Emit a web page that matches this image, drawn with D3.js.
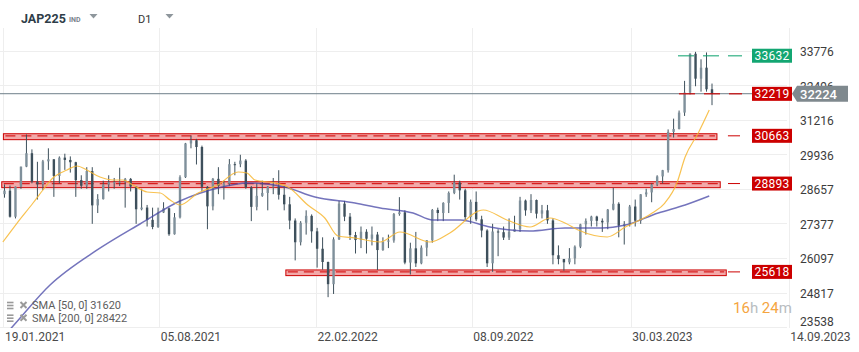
<!DOCTYPE html>
<html>
<head>
<meta charset="utf-8">
<script src="https://cdn.jsdelivr.net/npm/d3@7"></script>
<style>
  body { margin: 0; background: #fff; font-family: Roboto, 'Noto Sans', sans-serif; }
  svg { display: block; }
</style>
</head>
<body>
<svg id="chart" width="859" height="352"></svg>
<script>
// weekly bars, week 0 = 18.01.2021
const highs = [
  28860, 28820, 28780, 29520, 30714, 30160, 29700, 29770, 30200, 29800,
  29900, 30000, 29900, 29700, 29200, 29500, 29500, 28500, 29000, 29200,
  29100, 29480, 29100, 29100, 28800, 28700, 28100, 28000, 28000, 28200,
  28000, 27800, 29200, 30400, 30670, 30550, 30300, 28800, 29100, 29500,
  29000, 29800, 29700, 29960, 29800, 28800, 28900, 29000, 28800, 29100,
  29388, 28800, 28400, 27600, 27500, 27900, 27750, 27250, 26900, 26000,
  26900, 28250, 28250, 27800, 27100, 27300, 27200, 27300, 27100, 26900,
  27000, 27800, 28389, 27900, 26700, 27100, 26600, 26800, 27950, 28000,
  28200, 28600, 29222, 29000, 28700, 28300, 28600, 27700, 27200, 27400,
  27200, 27300, 27600, 27700, 28400, 28300, 28500, 28300, 28100, 28100,
  27600, 26600, 26100, 26500, 26600, 27400, 27600, 27700, 27700, 27600,
  27950, 28734, 28200, 27500, 28100, 28300, 28500, 28700, 28900, 29200,
  29400, 30900, 31300, 31600, 32700, 33720, 33776, 33500, 33753, 32600
]
const lows = [
  28370, 27630, 27600, 28700, 29500, 28900, 28300, 28650, 29400, 28400,
  28900, 29400, 29300, 28400, 28700, 28700, 27400, 27800, 28300, 28600,
  28700, 28800, 28000, 28600, 27400, 27900, 27300, 27200, 27250, 27800,
  26954, 27000, 27600, 29100, 30200, 29600, 28600, 27200, 27900, 28500,
  28300, 28800, 29200, 29500, 28700, 27500, 27900, 28400, 27900, 28500,
  28300, 27900, 27200, 26044, 26600, 27000, 26700, 25776, 25700, 24681,
  24800, 26800, 27500, 26800, 26300, 26500, 26300, 26600, 25688, 26400,
  26500, 26700, 27700, 25900, 25520, 25800, 25900, 26200, 26700, 27500,
  27500, 27800, 28500, 28300, 27500, 27400, 27500, 26900, 25800, 25621,
  26200, 26800, 26800, 27100, 27100, 27700, 27800, 27600, 27600, 27400,
  25900, 25900, 25661, 25900, 25900, 26500, 27000, 27300, 27300, 27100,
  27200, 27900, 26900, 26632, 27300, 27300, 27400, 28400, 28200, 28800,
  28900, 29300, 30600, 30900, 31400, 32200, 32500, 32300, 32300, 31800
]
const closes = [
  28631, 27663, 28779, 29520, 30018, 28966, 28864, 29717, 29792, 29176,
  29854, 29768, 29683, 29020, 28812, 29358, 28084, 28317, 28860, 28941,
  28948, 28964, 29066, 28783, 27940, 28003, 27548, 27283, 27820, 27977,
  27013, 27641, 29128, 30381, 30500, 30248, 28771, 28048, 29068, 28804,
  28892, 29611, 29609, 29745, 28751, 28029, 28437, 28545, 28782, 28791,
  28478, 28124, 27522, 26717, 27440, 27696, 27122, 26476, 25985, 25163,
  26827, 28150, 27666, 26986, 26799, 27106, 26848, 27003, 26428, 26739,
  26782, 27762, 27825, 25963, 26491, 25935, 26517, 26788, 27915, 27801,
  28176, 28546, 28930, 28641, 27650, 28214, 27567, 27153, 25937, 27116,
  27090, 26891, 27105, 27199, 28263, 27899, 28283, 27777, 27901, 27527,
  26235, 26094, 25973, 26119, 26553, 27382, 27509, 27670, 27513, 27453,
  27927, 28143, 27333, 27385, 28041, 27518, 28493, 28564, 28856, 29157,
  29388, 30808, 30916, 31524, 32265, 33706, 32781, 33189, 32388, 32224
]
const firstOpen = 28500

// moving averages (week index, value)
const sma50Weeks = [-0.3, 2.3, 5.2, 7.0, 8.8, 11.4, 13.2, 15.0, 17.4, 19.8, 21.6, 23.4, 26.0, 28.4, 30.2, 32.0, 35.3, 38.9, 42.6, 44.2, 45.7, 49.3, 51.7, 55.3, 58.4, 60.8, 63.9, 68.5, 72.1, 77.6, 81.2, 87.3, 91.6, 95.8, 99.5, 102.2, 104.6, 109.9, 113.2, 118.1, 120.4, 122.6, 124.1, 126.5, 128.5]
const sma50 = [26726, 27430, 28172, 28654, 29099, 29395, 29543, 29395, 29136, 29024, 29024, 28839, 28580, 28543, 28283, 28098, 28543, 28839, 29321, 29284, 29024, 28913, 28765, 28098, 27616, 26949, 26874, 26726, 27097, 26726, 27060, 27912, 27542, 27282, 27616, 27431, 27171, 26912, 27282, 27801, 28172, 28913, 29877, 30767, 31620]
const sma200Weeks = [-0.3, 1.4, 8.3, 16.9, 24.7, 32.0, 38.9, 44.4, 51.1, 56.6, 63.9, 68.5, 74.5, 78.1, 83.1, 88.5, 95.8, 102.2, 108.9, 113.2, 119.2, 124.1, 128.5]
const sma200 = [23200, 23575, 25132, 26430, 27393, 28246, 28728, 28913, 28765, 28394, 28172, 27987, 27801, 27542, 27542, 27282, 27134, 27245, 27245, 27356, 27801, 28098, 28431]

const yTicks = [33776, 32496, 31216, 29936, 28657, 27377, 26097, 24817, 23538]
const xTickWeeks = [-0.2, 28.2, 56.8, 85.2, 114.2, 143]
const xTickLabels = ['19.01.2021', '05.08.2021', '22.02.2022', '08.09.2022', '30.03.2023', '14.09.2023']

// support / resistance zones
const zoneLevels = [30663, 28893, 25618]
const zoneLow = [30520, 28740, 25480]
const zoneHigh = [30740, 28960, 25690]
const zoneFrom = [-0.2, -0.5, 51.3]
const zoneTo = [129.9, 130.5, 131.6]

const lastPrice = 32224
const bidLevel = 32219
const topLevel = 33632
const levelFrom = 122.8
const legendLines = ['SMA [50, 0] 31620', 'SMA [200, 0] 28422']

const svg = d3.select('#chart')
const plotRight = 787
const plotTop = 28
const plotBottom = 328

const x = d3.scaleLinear().domain([0, 129]).range([4.5, 712])
const y = d3.scaleLinear().domain([23538, 34660]).range([plotBottom, plotTop])

svg.append('defs').append('clipPath').attr('id', 'plot-clip')
  .append('rect').attr('x', 0).attr('y', plotTop).attr('width', plotRight).attr('height', plotBottom - plotTop)

// grid
svg.append('g')
  .selectAll('line')
  .data(yTicks)
  .join('line')
  .attr('x1', 0)
  .attr('x2', plotRight)
  .attr('y1', d => Math.round(y(d)) - 0.5)
  .attr('y2', d => Math.round(y(d)) - 0.5)
  .attr('stroke', '#eeeeee')

svg.append('g')
  .selectAll('line')
  .data(xTickWeeks)
  .join('line')
  .attr('x1', d => Math.round(x(d)) + 0.5)
  .attr('x2', d => Math.round(x(d)) + 0.5)
  .attr('y1', plotTop)
  .attr('y2', plotBottom)
  .attr('stroke', '#eeeeee')

// header
const header = svg.append('g')
header.append('text').attr('x', 21).attr('y', 23).text('JAP225')
  .attr('font-size', 12.5).attr('font-weight', 700).attr('fill', '#2e3d48')
header.append('text').attr('x', 69).attr('y', 22).text('IND')
  .attr('font-size', 7).attr('font-weight', 700).attr('fill', '#7a848b')
header.append('text').attr('x', 138).attr('y', 23).text('D1')
  .attr('font-size', 11).attr('fill', '#333')
header.selectAll('path.caret')
  .data([93.5, 169.5])
  .join('path')
  .attr('class', 'caret')
  .attr('d', d => `M${d - 4},14 L${d + 4},14 L${d},18.5 Z`)
  .attr('fill', '#8e969c')

// zones
const zoneG = svg.append('g')
zoneLevels.forEach((lvl, i) => {
  zoneG.append('rect')
    .attr('x', x(zoneFrom[i]))
    .attr('y', y(zoneHigh[i]))
    .attr('width', x(zoneTo[i]) - x(zoneFrom[i]))
    .attr('height', y(zoneLow[i]) - y(zoneHigh[i]))
    .attr('fill', '#f2a9a9')
    .attr('stroke', '#cc0000')
    .attr('stroke-width', 1)
  zoneG.append('line')
    .attr('x1', x(zoneFrom[i]) + 2)
    .attr('x2', x(zoneTo[i]) - 2)
    .attr('y1', y(lvl))
    .attr('y2', y(lvl))
    .attr('stroke', '#d81e1e')
    .attr('stroke-width', 1.3)
    .attr('stroke-dasharray', '10,6')
  zoneG.append('line')
    .attr('x1', Math.min(x(zoneTo[i]) + 11, 728))
    .attr('x2', 740)
    .attr('y1', y(lvl))
    .attr('y2', y(lvl))
    .attr('stroke', '#cc0000')
})

// last price line
svg.append('line')
  .attr('x1', 0).attr('x2', plotRight)
  .attr('y1', y(lastPrice)).attr('y2', y(lastPrice))
  .attr('stroke', '#6f7f89').attr('stroke-width', 1)

// candles
const candles = svg.append('g').attr('clip-path', 'url(#plot-clip)')
const bars = closes.map((c, i) => ({
  i, high: highs[i], low: lows[i], close: c, open: i === 0 ? firstOpen : closes[i - 1]
}))
candles.selectAll('line')
  .data(bars)
  .join('line')
  .attr('x1', d => x(d.i))
  .attr('x2', d => x(d.i))
  .attr('y1', d => y(d.high))
  .attr('y2', d => y(d.low))
  .attr('stroke', '#3e505c')
  .attr('stroke-width', 1)
candles.selectAll('rect')
  .data(bars)
  .join('rect')
  .attr('x', d => x(d.i) - 1.2)
  .attr('width', 2.4)
  .attr('y', d => y(Math.max(d.open, d.close)))
  .attr('height', d => Math.max(1, Math.abs(y(d.open) - y(d.close))))
  .attr('fill', d => d.close >= d.open ? '#7f909b' : '#3e505c')

// SMAs
const smaLine = d3.line()
  .x(d => x(d[0]))
  .y(d => y(d[1]))
  .curve(d3.curveMonotoneX)
const lines = svg.append('g').attr('clip-path', 'url(#plot-clip)')
lines.append('path')
  .attr('d', smaLine(sma200Weeks.map((w, i) => [w, sma200[i]])))
  .attr('fill', 'none')
  .attr('stroke', '#4545a6')
  .attr('stroke-opacity', 0.75)
  .attr('stroke-width', 1.5)
lines.append('path')
  .attr('d', smaLine(sma50Weeks.map((w, i) => [w, sma50[i]])))
  .attr('fill', 'none')
  .attr('stroke', '#f7b733')
  .attr('stroke-opacity', 0.85)
  .attr('stroke-width', 1.2)

// level lines (green top, red bid)
svg.append('line')
  .attr('x1', x(levelFrom)).attr('x2', 742)
  .attr('y1', y(topLevel)).attr('y2', y(topLevel))
  .attr('stroke', '#14a572').attr('stroke-opacity', 0.7)
  .attr('stroke-width', 1.5).attr('stroke-dasharray', '16,9')
svg.append('line')
  .attr('x1', x(levelFrom) + 1).attr('x2', 742)
  .attr('y1', y(bidLevel)).attr('y2', y(bidLevel))
  .attr('stroke', '#d20000').attr('stroke-opacity', 0.75)
  .attr('stroke-width', 1.5).attr('stroke-dasharray', '16,9')

// axes
const yAxis = svg.append('g')
  .attr('transform', `translate(800,0)`)
  .call(d3.axisRight(y).tickValues(yTicks).tickSize(0).tickPadding(0).tickFormat(d3.format('d')))
yAxis.select('.domain').remove()
yAxis.selectAll('text')
  .attr('font-family', 'Roboto, sans-serif')
  .attr('font-size', 12)
  .attr('fill', '#3c3c3c')
  .attr('y', d => (y(d) > plotBottom - 8 ? -6 : 0))

const xAxis = svg.append('g')
  .attr('transform', `translate(0,332)`)
  .call(d3.axisBottom(x).tickValues(xTickWeeks).tickSize(0).tickPadding(0).tickFormat((d, i) => xTickLabels[i]))
xAxis.select('.domain').remove()
xAxis.selectAll('text')
  .attr('font-family', 'Roboto, sans-serif')
  .attr('font-size', 12)
  .attr('fill', '#4a4a4a')
  .attr('text-anchor', 'start')
  .attr('dx', 1)

// price tags
const tag = (v, label, fill) => {
  const cy = y(v)
  svg.append('rect')
    .attr('x', 752).attr('y', cy - 7).attr('width', 40).attr('height', 14)
    .attr('fill', fill)
  svg.append('text')
    .attr('x', 772).attr('y', cy + 0.5)
    .attr('text-anchor', 'middle').attr('dominant-baseline', 'central')
    .attr('font-size', 12).attr('letter-spacing', 0.3).attr('fill', '#fff')
    .text(label)
}
tag(topLevel, '33632', '#13a672')
tag(bidLevel, '32219', '#cc0000')
zoneLevels.forEach(l => tag(l, String(l), '#cc0000'))

const ly = y(lastPrice)
svg.append('path')
  .attr('d', `M797,${ly - 8} L848,${ly - 8} L848,${ly + 8} L797,${ly + 8} L792,${ly} Z`)
  .attr('fill', '#7f898e')
svg.append('text')
  .attr('x', 800).attr('y', ly + 0.5)
  .attr('dominant-baseline', 'central')
  .attr('font-size', 13).attr('font-weight', 500).attr('fill', '#fff')
  .text(String(lastPrice))

// countdown
const cd = svg.append('text').attr('x', 733).attr('y', 313).attr('font-size', 15)
cd.append('tspan').attr('fill', '#f5a53f').text('16')
cd.append('tspan').attr('fill', '#b8bdc1').text('h ')
cd.append('tspan').attr('fill', '#f5a53f').text('24')
cd.append('tspan').attr('fill', '#b8bdc1').text('m')

// legend
const legend = svg.append('g')
legendLines.forEach((t, i) => {
  const cy = 305.5 + i * 12.7
  const g = legend.append('g')
  ;[-3, 0, 3].forEach(dy => {
    g.append('rect').attr('x', 7).attr('y', cy + dy - 0.8).attr('width', 6.5).attr('height', 1.6).attr('fill', '#9a9a9a')
  })
  g.append('path')
    .attr('d', `M20.5,${cy - 3.5} L26.5,${cy + 2.5} M26.5,${cy - 3.5} L20.5,${cy + 2.5}`)
    .attr('stroke', '#9a9a9a').attr('stroke-width', 2)
  g.append('text')
    .attr('x', 32).attr('y', cy)
    .attr('dominant-baseline', 'central')
    .attr('font-size', 11).attr('fill', '#5d5d5d')
    .text(t)
})
</script>
</body>
</html>
